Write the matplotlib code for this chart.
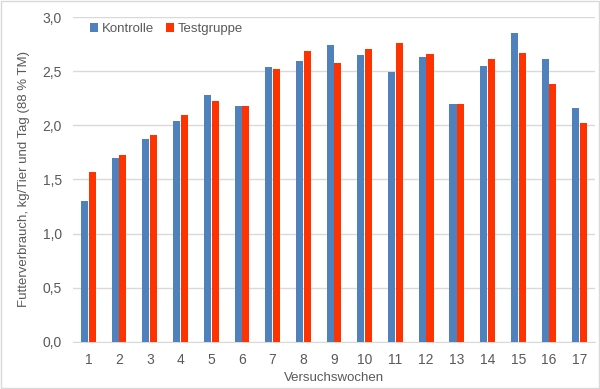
import matplotlib
matplotlib.use("Agg")
import matplotlib.pyplot as plt
import numpy as np
from matplotlib.ticker import FuncFormatter

plt.rcParams["font.family"] = ["Liberation Sans", "DejaVu Sans"]

# Daten
wochen = [str(i) for i in range(1, 18)]
kontrolle = [1.30, 1.70, 1.87, 2.04, 2.28, 2.18, 2.54, 2.60, 2.74, 2.65,
             2.49, 2.63, 2.20, 2.55, 2.85, 2.61, 2.16]
testgruppe = [1.57, 1.73, 1.91, 2.10, 2.23, 2.18, 2.52, 2.69, 2.58, 2.71,
              2.76, 2.66, 2.20, 2.61, 2.67, 2.38, 2.02]

blau = "#4F81BD"
rot = "#FF3300"
grau = "#595959"
fs = 9.5

fig = plt.figure(figsize=(6.0, 3.89), dpi=100)
ax = fig.add_axes([0.1217, 0.1216, 0.87, 0.834])

x = np.arange(len(wochen))
w = 0.23
ax.bar(x - 0.125, kontrolle, w, color=blau, label="Kontrolle", zorder=3)
ax.bar(x + 0.125, testgruppe, w, color=rot, label="Testgruppe", zorder=3)

ax.set_ylim(0, 3.0)
ax.set_yticks(np.arange(0, 3.01, 0.5))
ax.yaxis.set_major_formatter(FuncFormatter(lambda v, p: f"{v:.1f}".replace(".", ",")))
ax.set_xlim(-0.5, len(wochen) - 0.5)
ax.set_xticks(x)
ax.set_xticklabels(wochen)

ax.grid(axis="y", color="#D9D9D9", linewidth=1, zorder=0)
for s in ["top", "right", "left"]:
    ax.spines[s].set_visible(False)
ax.spines["bottom"].set_color("#D9D9D9")
ax.tick_params(axis="both", length=0, labelsize=fs + 0.5, colors=grau, pad=8)

ax.set_xlabel("Versuchswochen", fontsize=fs, color=grau, labelpad=4)
ax.set_ylabel("Futterverbrauch, kg/Tier und Tag (88 % TM)", fontsize=fs, color=grau, labelpad=9)

ax.legend(loc="upper left", bbox_to_anchor=(0.01, 1.018), ncol=2, frameon=False,
          fontsize=fs, labelcolor=grau, handlelength=0.6, handleheight=0.6,
          handletextpad=0.3, columnspacing=0.9)

fig.patches.append(plt.Rectangle((0.002, 0.002), 0.996, 0.996, transform=fig.transFigure,
                                 fill=False, edgecolor="#D9D9D9", linewidth=1))

fig.savefig("out.png", dpi=100, facecolor="white")
